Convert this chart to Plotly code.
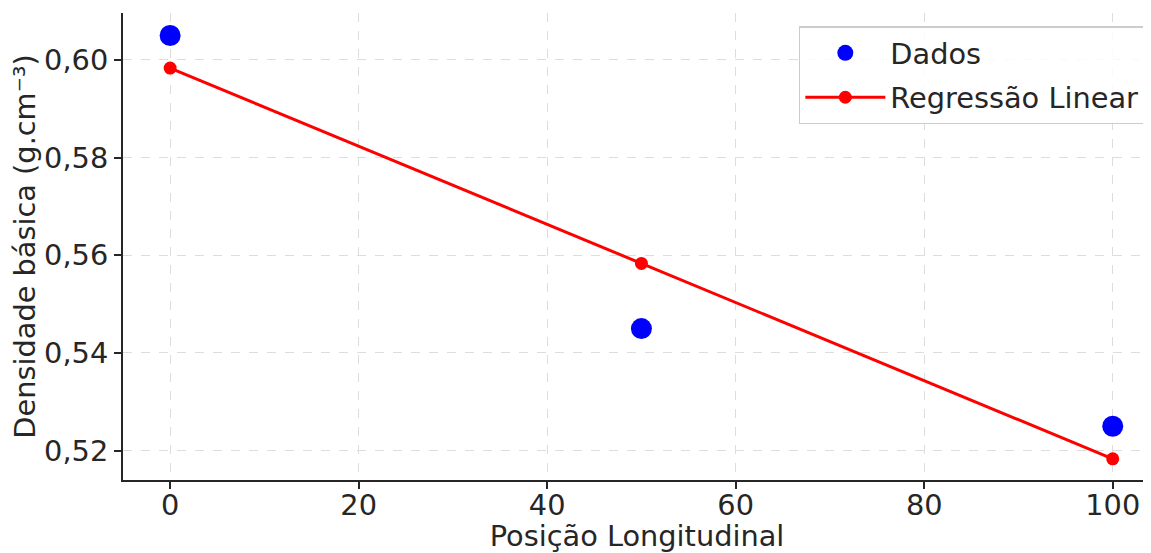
import plotly.graph_objects as go

posicao = [0, 50, 100]
densidade = [0.605, 0.545, 0.525]
regressao = [0.59833, 0.55833, 0.51833]

x_ticks = [0, 20, 40, 60, 80, 100]
y_ticks = [0.52, 0.54, 0.56, 0.58, 0.60]

txt = "#262626"
font = "DejaVu Sans"
fs = 28.8

fig = go.Figure()
fig.add_trace(go.Scatter(
    x=posicao, y=densidade, mode="markers", name="Dados",
    marker=dict(color="blue", size=21), legendgroup="a"))
fig.add_trace(go.Scatter(
    x=posicao, y=regressao, mode="lines+markers", name="Regressão Linear",
    line=dict(color="red", width=3), marker=dict(color="red", size=13),
    legendgroup="b"))

fig.update_layout(
    width=1143, height=545,
    margin=dict(l=115, r=0, t=5, b=73),
    paper_bgcolor="white", plot_bgcolor="white",
    separators=", ",
    font=dict(family=font, size=fs, color=txt),
    showlegend=True,
    legend=dict(
        x=0.994, y=0.972, xanchor="right", yanchor="top",
        bgcolor="rgba(255,255,255,0.85)", bordercolor="#cccccc", borderwidth=1.5,
        font=dict(size=fs, color=txt),
        traceorder="grouped", tracegroupgap=4,
        itemwidth=80,
    ),
)
fig.update_xaxes(
    range=[-5, 104.06], tickvals=x_ticks, ticks="outside", ticklen=7, tickwidth=1.5,
    tickcolor=txt, showline=True, linecolor=txt, linewidth=2, mirror=False,
    showgrid=True, gridcolor="#dddddd", griddash="dash", gridwidth=1, zeroline=False,
    automargin=False, ticklabelstandoff=-9,
    title=dict(text="Posição Longitudinal", font=dict(size=fs, color=txt), standoff=4),
    tickfont=dict(size=fs, color=txt),
)
fig.update_yaxes(
    range=[0.51399, 0.60961], tickvals=y_ticks, tickformat=".2f", ticks="outside",
    ticklen=7, tickwidth=1.5, tickcolor=txt, showline=True, linecolor=txt, linewidth=2,
    mirror=False, showgrid=True, gridcolor="#dddddd", griddash="dash", gridwidth=1,
    zeroline=False, automargin=False,
    title=dict(text="Densidade básica (g.cm⁻³)", font=dict(size=fs, color=txt), standoff=10),
    tickfont=dict(size=fs, color=txt),
)

fig.write_html("out.html")
